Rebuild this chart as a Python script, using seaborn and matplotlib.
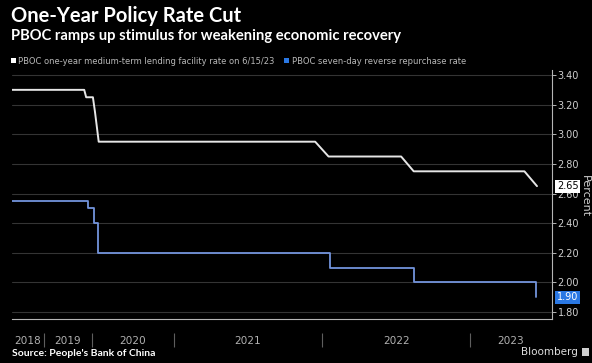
import numpy as np
import pandas as pd
import matplotlib
matplotlib.use("Agg")
import matplotlib.pyplot as plt
import matplotlib.dates as mdates
from matplotlib.patches import Patch, Rectangle
import seaborn as sns

# --- data -------------------------------------------------------------
# PBOC one-year medium-term lending facility rate (monthly operations)
mlf_dates = ["2018-07-01", "2019-10-17", "2019-11-05", "2020-01-15",
             "2020-02-17", "2020-04-15", "2021-12-15", "2022-01-17",
             "2022-07-15", "2022-08-15", "2023-05-15", "2023-06-15"]
mlf_rates = [3.30, 3.30, 3.25, 3.25, 3.15, 2.95, 2.95, 2.85,
             2.85, 2.75, 2.75, 2.65]

# PBOC seven-day reverse repurchase rate (changes only)
rrr_dates = ["2018-07-01", "2019-11-18", "2020-02-03", "2020-03-30",
             "2022-01-20", "2022-08-15", "2023-06-13"]
rrr_rates = [2.55, 2.50, 2.40, 2.20, 2.10, 2.00, 1.90]

year_labels = ["2018", "2019", "2020", "2021", "2022", "2023"]
y_ticks = [1.80, 2.00, 2.20, 2.40, 2.60, 2.80, 3.00, 3.20, 3.40]
legend_labels = ["PBOC one-year medium-term lending facility rate on 6/15/23",
                 "PBOC seven-day reverse repurchase rate"]

# Time axis is compressed before 2021: piecewise-linear date scale
scale_dates = ["2000-01-01", "2018-07-01", "2019-01-01", "2019-10-15",
               "2020-01-01", "2020-04-20", "2021-01-01", "2022-01-01",
               "2023-01-01", "2024-01-01", "2040-01-01"]
scale_pos = [-1163.0, 12.0, 44.0, 84.0, 92.0, 99.0, 174.0, 322.0,
             470.0, 618.0, 2986.0]
x_start, x_end = "2018-07-01", "2023-07-22"

# --- colours ----------------------------------------------------------
BG = "#000000"
WHITE_LINE = "#e6e6e6"
BLUE_LINE = "#7394dc"
BLUE_BADGE = "#2a78e4"
GRID = "#343434"
AXIS = "#b5b5b5"
TEXT = "#d0d0d0"

sns.set_style("dark", {"axes.facecolor": BG, "figure.facecolor": BG})
plt.rcParams["font.family"] = ["DejaVu Sans"]
NARROW = ["Liberation Sans Narrow", "Lato", "DejaVu Sans"]


def to_num(dates):
    return mdates.date2num(pd.to_datetime(dates))


sd = to_num(scale_dates)
sp = np.asarray(scale_pos)


def fwd(x):
    return np.interp(x, sd, sp)


def inv(p):
    return np.interp(p, sp, sd)


mlf_df = pd.DataFrame({"x": to_num(mlf_dates), "rate": mlf_rates})
rrr_df = pd.DataFrame({"x": to_num(rrr_dates), "rate": rrr_rates})

fig = plt.figure(figsize=(5.92, 3.63), dpi=100)
fig.patch.set_facecolor(BG)
ax = fig.add_axes([12 / 592, 44 / 363, 540 / 592, 249 / 363])
ax.set_facecolor(BG)

sns.lineplot(data=mlf_df, x="x", y="rate", ax=ax, color=WHITE_LINE,
             lw=1.4, estimator=None, legend=False, zorder=4)
sns.lineplot(data=rrr_df, x="x", y="rate", ax=ax, color=BLUE_LINE,
             lw=1.3, estimator=None, legend=False, drawstyle="steps-post",
             zorder=4)

ax.set_xscale("function", functions=(fwd, inv))
x0, x1 = to_num([x_start, x_end])
ax.set_xlim(x0, x1)
ax.set_ylim(1.753, 3.434)

# y axis on the right
ax.yaxis.tick_right()
ax.set_yticks(y_ticks)
ax.set_yticklabels([f"{v:.2f}" for v in y_ticks])
ax.tick_params(axis="y", which="major", direction="out", length=3,
               width=0.7, color=AXIS, labelcolor=TEXT, labelsize=7, pad=1)
ax.grid(axis="y", color=GRID, lw=0.8)
ax.grid(axis="x", visible=False)
ax.set_xlabel("")
ax.set_ylabel("")
fig.text(585 / 592, 1 - 196 / 363, "Percent", rotation=270, ha="center",
         va="center", color=TEXT, fontsize=8)

for side in ("left", "top"):
    ax.spines[side].set_visible(False)
for side in ("right", "bottom"):
    ax.spines[side].set_visible(True)
    ax.spines[side].set_color(AXIS)
    ax.spines[side].set_linewidth(0.8)

# x axis: monthly minor ticks, year bands labelled underneath
ax.set_xticks([])
months = pd.date_range("2018-07-01", "2023-07-01", freq="MS")
ax.set_xticks(to_num(months), minor=True)
ax.tick_params(axis="x", which="minor", direction="inout", length=3.5,
               width=0.6, color="#9a9a9a", labelbottom=False)

year_starts = to_num([f"{y}-01-01" for y in range(2019, 2024)])
ax.vlines(year_starts, -0.112, -0.056, transform=ax.get_xaxis_transform(),
          color="#5e5e5e", lw=0.8, clip_on=False)

for lbl in year_labels:
    y = int(lbl)
    a = max(to_num([f"{y}-01-01"])[0], x0)
    b = min(to_num([f"{y + 1}-01-01"])[0], x1)
    mid = inv((fwd(a) + fwd(b)) / 2)
    ax.text(mid, -0.088, lbl, transform=ax.get_xaxis_transform(),
            ha="center", va="center", fontsize=7.6, color="#b0b0b0",
            clip_on=False)

# last-value badges
ax.text(1.009, mlf_rates[-1], f"{mlf_rates[-1]:.2f}",
        transform=ax.get_yaxis_transform(), ha="left", va="center",
        fontsize=7, color="black", zorder=6, clip_on=False,
        bbox=dict(boxstyle="square,pad=0.15", fc="white", ec="none"))
ax.text(1.009, rrr_rates[-1], f"{rrr_rates[-1]:.2f}",
        transform=ax.get_yaxis_transform(), ha="left", va="center",
        fontsize=7, color="white", zorder=6, clip_on=False,
        bbox=dict(boxstyle="square,pad=0.15", fc=BLUE_BADGE, ec="none"))

# legend with square swatches
handles = [Patch(facecolor="white", edgecolor="none"),
           Patch(facecolor=BLUE_BADGE, edgecolor="none")]
fig.legend(handles, legend_labels, loc="center left",
           bbox_to_anchor=(11 / 592, 1 - 61 / 363), ncol=2, frameon=False,
           fontsize=6.0, labelcolor="#b8b8b8", handlelength=0.6,
           handleheight=0.6, handletextpad=0.3, columnspacing=1.1,
           borderaxespad=0, borderpad=0)

# titles and footer
fig.text(11 / 592, 1 - 6 / 363, "One-Year Policy Rate Cut", ha="left",
         va="top", fontsize=14.5, fontweight="bold", color="white",
         family=NARROW)
fig.text(11 / 592, 1 - 29 / 363,
         "PBOC ramps up stimulus for weakening economic recovery",
         ha="left", va="top", fontsize=10.6, fontweight="bold",
         color="white", family=NARROW)
fig.text(12 / 592, 1 - 353 / 363, "Source: People's Bank of China",
         ha="left", va="center", fontsize=7.5, fontweight="bold",
         color="white", family=NARROW)
fig.text(578 / 592, 1 - 352 / 363, "Bloomberg", ha="right", va="center",
         fontsize=7.5, color="#dddddd")
fig.patches.append(Rectangle((582 / 592, 1 - 356 / 363), 7 / 592, 8 / 363,
                             transform=fig.transFigure, facecolor="#cfcfcf",
                             edgecolor="none"))

fig.savefig("out.png", dpi=100, facecolor=BG)
